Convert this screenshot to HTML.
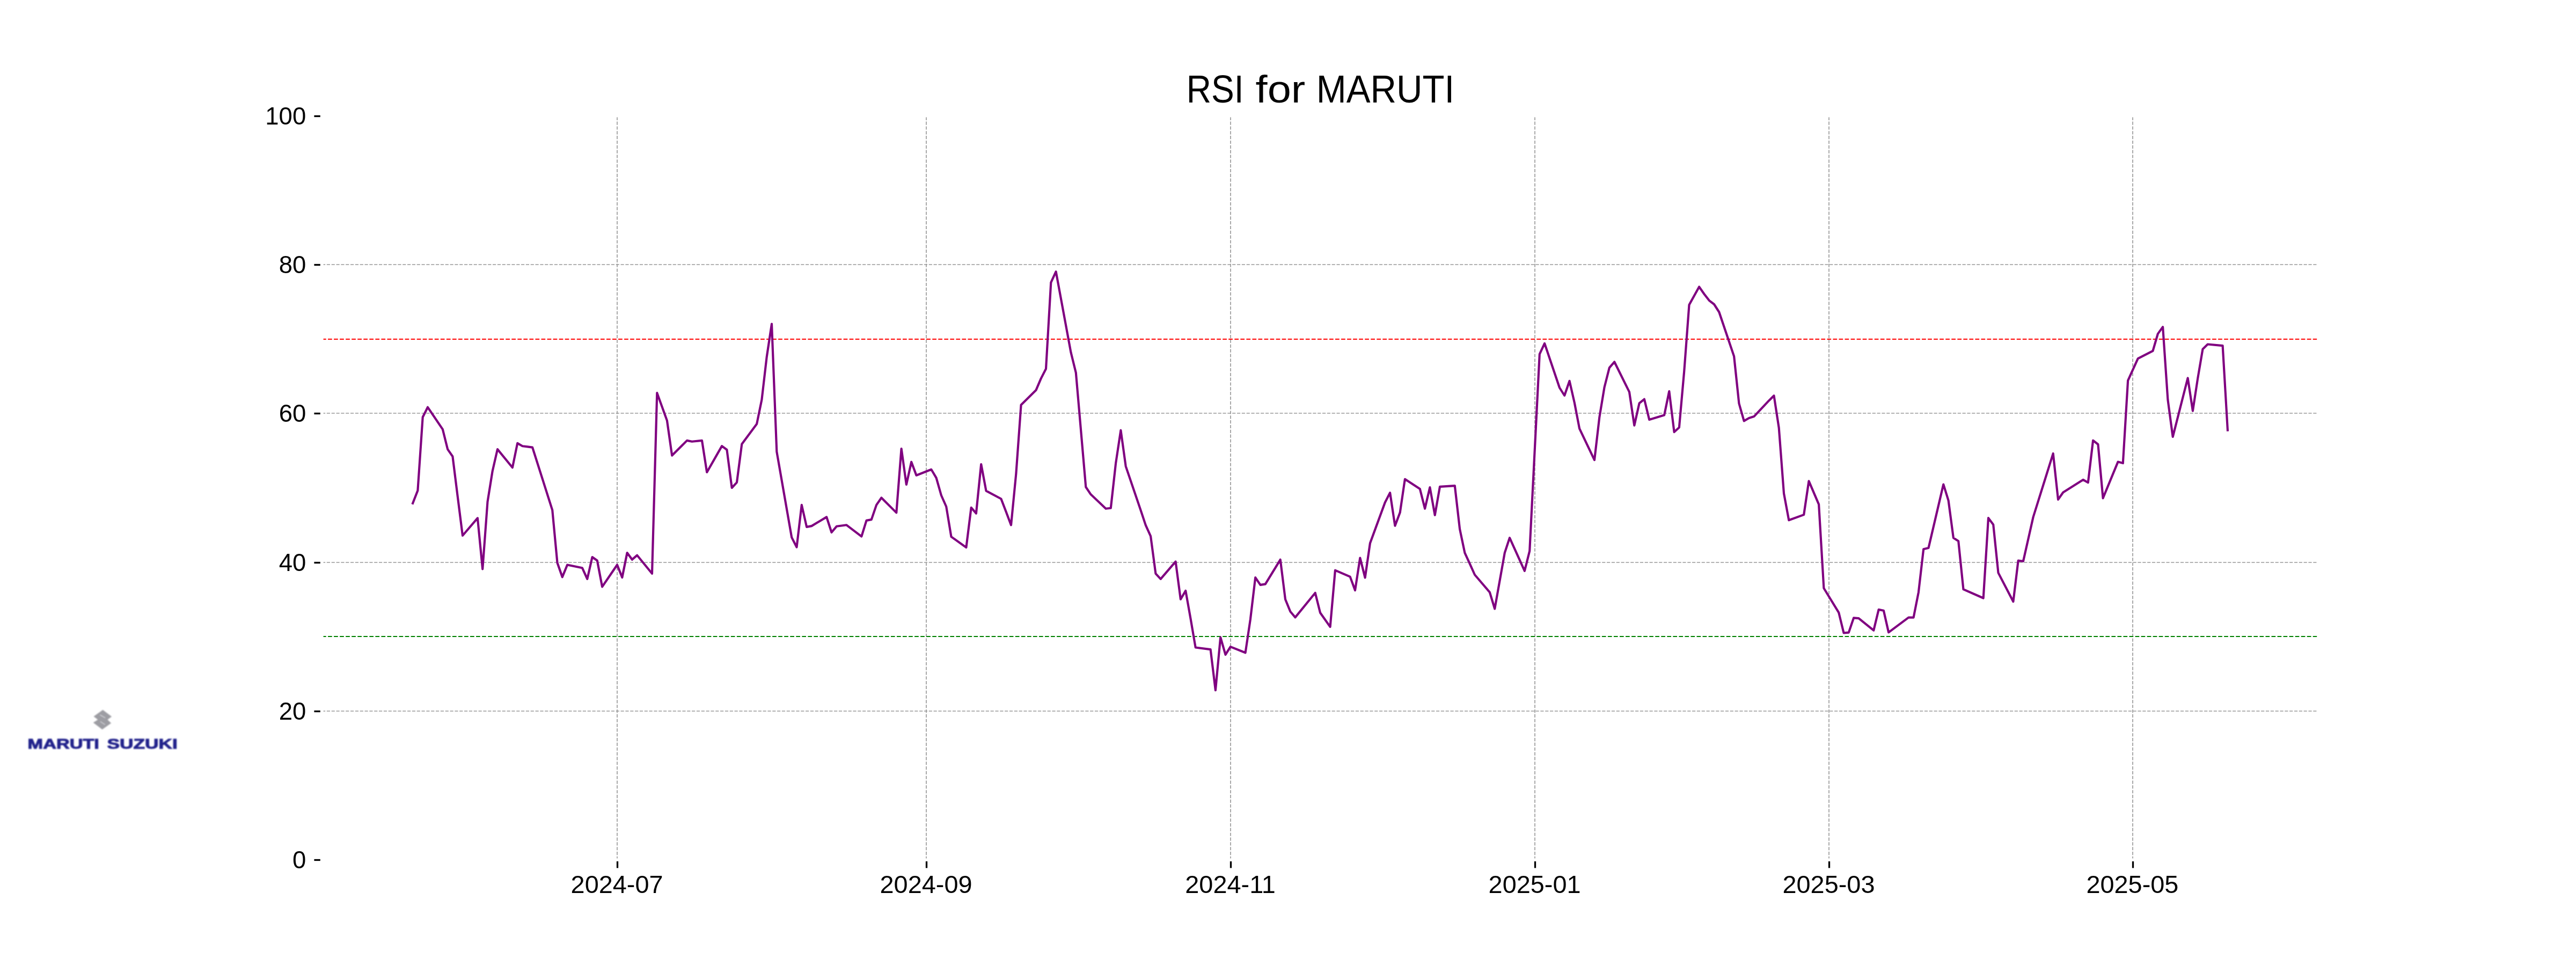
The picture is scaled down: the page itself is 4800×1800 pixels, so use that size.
<!DOCTYPE html>
<html><head><meta charset="utf-8"><style>
html,body{margin:0;padding:0;background:#fff;width:4800px;height:1800px;overflow:hidden}
svg{display:block}
.g{stroke:#999999;stroke-width:1.67;stroke-dasharray:6.167 2.667;fill:none}
text{font-family:"Liberation Sans",sans-serif}
</style></head><body>
<svg width="4800" height="1800" viewBox="0 0 4800 1800">
<rect width="4800" height="1800" fill="#fff"/>
<defs><clipPath id="ax"><rect x="602.6" y="218.6" width="3714.8" height="1380.8"/></clipPath>
<filter id="bl" x="-10%" y="-30%" width="120%" height="160%"><feGaussianBlur stdDeviation="1"/></filter></defs>
<g clip-path="url(#ax)">
<line x1="600" y1="1325.00" x2="4320" y2="1325.00" class="g"/>
<line x1="600" y1="1048.00" x2="4320" y2="1048.00" class="g"/>
<line x1="600" y1="770.00" x2="4320" y2="770.00" class="g"/>
<line x1="600" y1="493.00" x2="4320" y2="493.00" class="g"/>
<line x1="1150.00" y1="1602" x2="1150.00" y2="216" class="g"/>
<line x1="1726.00" y1="1602" x2="1726.00" y2="216" class="g"/>
<line x1="2293.00" y1="1602" x2="2293.00" y2="216" class="g"/>
<line x1="2860.00" y1="1602" x2="2860.00" y2="216" class="g"/>
<line x1="3408.00" y1="1602" x2="3408.00" y2="216" class="g"/>
<line x1="3974.00" y1="1602" x2="3974.00" y2="216" class="g"/>
<line x1="600" y1="632" x2="4320" y2="632" stroke="#ff0000" stroke-width="2.08" stroke-dasharray="7.708 3.333"/>
<line x1="600" y1="1186" x2="4320" y2="1186" stroke="#008000" stroke-width="2.08" stroke-dasharray="7.708 3.333"/>
<polyline points="769.1,937.7 778.4,913.9 787.7,777.3 797.0,758.8 824.8,799.8 834.1,837.1 843.4,850.5 852.7,924.8 862.0,998.0 889.9,965.4 899.2,1060.3 908.5,934.9 917.7,877.7 927.0,837.1 954.9,871.2 964.2,825.9 973.5,831.3 982.8,832.4 992.1,833.6 1029.2,950.3 1038.5,1048.8 1047.8,1075.3 1057.1,1052.5 1085.0,1058.3 1094.3,1078.9 1103.6,1038.0 1112.8,1044.5 1122.1,1093.4 1150.0,1052.5 1159.3,1076.0 1168.6,1030.0 1177.9,1042.7 1187.2,1034.7 1215.0,1068.8 1224.3,732.2 1233.6,757.9 1242.9,783.6 1252.2,848.8 1280.1,820.9 1289.4,822.8 1308.0,820.9 1317.2,880.0 1345.1,831.1 1354.4,838.0 1363.7,909.0 1373.0,898.8 1382.3,827.5 1410.1,790.1 1419.4,744.9 1428.7,665.1 1438.0,603.6 1447.3,841.6 1475.2,1001.4 1484.5,1019.6 1493.8,940.9 1503.1,981.9 1512.3,980.1 1540.2,963.4 1549.5,992.0 1558.8,980.8 1577.4,978.3 1605.3,999.6 1614.5,969.9 1623.8,968.1 1633.1,940.9 1642.4,927.5 1670.3,955.4 1679.6,836.0 1688.9,903.0 1698.2,860.7 1707.5,885.7 1735.3,874.8 1744.6,890.4 1753.9,923.0 1763.2,944.0 1772.5,1000.1 1800.4,1020.1 1809.7,945.8 1818.9,956.7 1828.2,865.0 1837.5,914.6 1865.4,929.5 1874.7,953.8 1884.0,978.4 1893.3,883.1 1902.6,754.5 1930.4,727.1 1939.7,705.4 1949.0,687.2 1958.3,526.4 1967.6,506.1 1995.5,656.8 2004.8,694.5 2023.3,907.5 2032.6,921.3 2060.5,947.8 2069.8,946.7 2079.1,863.3 2088.4,801.7 2097.7,868.8 2125.5,950.7 2134.8,978.6 2144.1,999.2 2153.4,1068.8 2162.7,1078.9 2190.6,1046.4 2199.9,1116.7 2209.2,1100.7 2218.4,1152.2 2227.7,1206.5 2255.6,1210.1 2264.9,1286.2 2274.2,1187.7 2283.5,1219.9 2292.8,1205.1 2320.6,1216.3 2329.9,1154.0 2339.2,1076.1 2348.5,1089.9 2357.8,1088.4 2385.7,1042.8 2395.0,1116.7 2404.3,1139.5 2413.5,1150.4 2450.7,1104.7 2460.0,1141.7 2478.6,1168.1 2487.9,1062.7 2515.7,1074.6 2525.0,1100.0 2534.3,1039.5 2543.6,1076.4 2552.9,1012.3 2580.8,936.2 2590.1,918.1 2599.4,979.7 2608.7,955.1 2617.9,892.8 2645.8,910.9 2655.1,947.8 2664.4,908.0 2673.7,959.8 2683.0,906.9 2710.8,905.1 2720.1,985.9 2729.4,1030.1 2738.7,1050.4 2748.0,1071.0 2775.9,1103.6 2785.2,1134.4 2803.8,1030.1 2813.0,1002.2 2840.9,1063.8 2850.2,1026.8 2859.5,843.5 2868.8,659.8 2878.1,639.9 2906.0,722.5 2915.2,737.0 2924.5,709.8 2933.8,750.4 2943.1,798.6 2971.0,857.2 2980.3,777.5 2989.6,721.4 2998.9,685.1 3008.2,674.3 3036.0,730.4 3045.3,792.8 3054.6,751.4 3063.9,743.8 3073.2,781.9 3101.1,773.6 3110.3,729.0 3119.6,805.1 3128.9,796.4 3138.2,692.0 3147.5,568.1 3166.1,534.4 3175.4,547.8 3184.7,559.8 3194.0,567.0 3203.3,581.5 3231.1,663.8 3240.4,751.8 3249.7,784.4 3259.0,779.0 3268.3,776.1 3296.2,746.4 3305.5,737.3 3314.7,797.1 3324.0,919.3 3333.3,969.3 3361.2,959.1 3370.5,896.4 3389.1,939.9 3398.4,1096.0 3426.2,1141.3 3435.5,1179.3 3444.8,1178.6 3454.1,1151.4 3463.4,1152.2 3491.3,1174.6 3500.6,1135.9 3509.9,1137.7 3519.1,1178.3 3556.3,1150.7 3565.6,1150.7 3574.9,1103.6 3584.2,1023.2 3593.5,1021.0 3621.3,902.5 3630.6,932.6 3639.9,1002.2 3649.2,1008.3 3658.5,1098.2 3695.7,1114.5 3705.0,965.2 3714.2,977.5 3723.5,1067.4 3751.4,1121.0 3760.7,1044.6 3770.0,1045.7 3788.6,963.5 3825.7,845.0 3835.0,930.9 3844.3,917.5 3881.5,893.9 3890.8,899.3 3900.1,820.7 3909.4,828.0 3918.6,928.3 3946.5,860.6 3955.8,863.1 3965.1,709.1 3983.7,668.1 4011.5,653.8 4020.8,622.1 4030.1,609.1 4039.4,744.8 4048.7,814.0 4076.6,704.4 4085.9,765.6 4095.2,705.0 4104.5,650.4 4113.7,641.5 4141.6,644.2 4150.9,801.5" fill="none" stroke="#800080" stroke-width="4.17" stroke-linejoin="round" stroke-linecap="square"/>
</g>
<g fill="#000" opacity="0.999">
<rect x="1148.85" y="1605" width="3.3" height="12.4"/>
<text transform="translate(1063.58,1664.00) scale(0.11720,0.11380)" font-size="400">2024-07</text>
<rect x="1724.85" y="1605" width="3.3" height="12.4"/>
<text transform="translate(1639.52,1664.00) scale(0.11720,0.11380)" font-size="400">2024-09</text>
<rect x="2291.85" y="1605" width="3.3" height="12.4"/>
<text transform="translate(2208.27,1664.00) scale(0.11720,0.11380)" font-size="400">2024-11</text>
<rect x="2858.85" y="1605" width="3.3" height="12.4"/>
<text transform="translate(2773.58,1664.00) scale(0.11720,0.11380)" font-size="400">2025-01</text>
<rect x="3406.85" y="1605" width="3.3" height="12.4"/>
<text transform="translate(3321.46,1664.00) scale(0.11720,0.11380)" font-size="400">2025-03</text>
<rect x="3972.85" y="1605" width="3.3" height="12.4"/>
<text transform="translate(3887.40,1664.00) scale(0.11720,0.11380)" font-size="400">2025-05</text>
<rect x="585.4" y="1600.85" width="11.4" height="3.3"/>
<text transform="translate(544.94,1618.05) scale(0.11380,0.11380)" font-size="400">0</text>
<rect x="585.4" y="1323.85" width="11.4" height="3.3"/>
<text transform="translate(519.68,1341.05) scale(0.11380,0.11380)" font-size="400">20</text>
<rect x="585.4" y="1046.85" width="11.4" height="3.3"/>
<text transform="translate(519.68,1064.05) scale(0.11380,0.11380)" font-size="400">40</text>
<rect x="585.4" y="768.85" width="11.4" height="3.3"/>
<text transform="translate(519.68,786.05) scale(0.11380,0.11380)" font-size="400">60</text>
<rect x="585.4" y="491.85" width="11.4" height="3.3"/>
<text transform="translate(519.68,509.05) scale(0.11380,0.11380)" font-size="400">80</text>
<rect x="585.4" y="214.85" width="11.4" height="3.3"/>
<text transform="translate(494.30,232.05) scale(0.11380,0.11380)" font-size="400">100</text>
<text transform="translate(2210.81,191.08) scale(0.16030,0.18092)" font-size="400">RSI</text>
<text transform="translate(2339.61,191.08) scale(0.19846,0.17986)" font-size="400">for</text>
<text transform="translate(2452.76,191.08) scale(0.16787,0.17885)" font-size="400">MARUTI</text>
</g>
<g filter="url(#bl)">
<path d="M191.6,1322.8 L208.1,1335.2 L200.4,1340.9 L207.1,1347.4 L190.5,1359.3 L173.7,1346.6 L182.3,1340.9 L174.5,1334.9 Z" fill="#9d9da3"/>
<path d="M186.4,1332.1 L196.2,1337.8 M186.9,1344.5 L195.7,1350.2" stroke="#d8d8dc" stroke-width="1.3"/>
<g fill="#22248c" stroke="#22248c" stroke-width="16" stroke-linejoin="round">
<text transform="translate(51.59,1395.04) scale(0.08569,0.06559)" font-size="400" font-weight="bold">MARUTI</text>
<text transform="translate(199.54,1395.04) scale(0.08814,0.06466)" font-size="400" font-weight="bold">SUZUKI</text>
</g>
</g>
</svg>
</body></html>
